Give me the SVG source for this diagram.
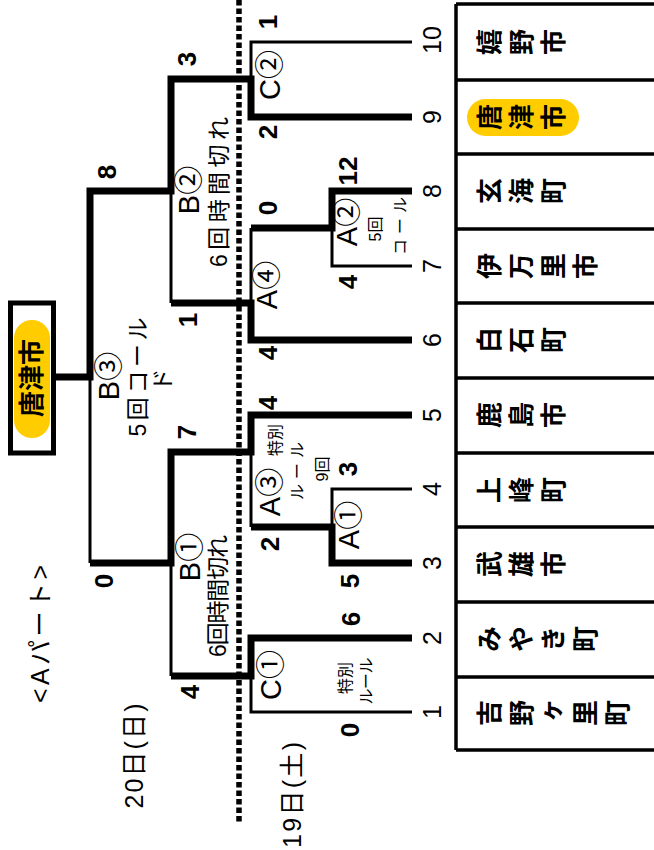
<svg xmlns="http://www.w3.org/2000/svg" width="654" height="850" viewBox="0 0 654 850">
<style>
text{font-family:"Liberation Sans","Noto Sans CJK JP",sans-serif;fill:#000}
.r{text-anchor:middle;dominant-baseline:central}
.sc{font-size:26px;font-weight:bold}
.num{font-size:25px}
.lb{font-size:29px}
.nt{font-size:23px}
.hd{font-size:25px}
.sm{font-size:16px}
.name{font-family:"Noto Sans CJK JP",sans-serif;font-size:26px;font-weight:bold;writing-mode:vertical-rl;letter-spacing:6px}
.thick{fill:none;stroke:#000;stroke-width:7;stroke-linejoin:miter}
.thin{fill:none;stroke:#000;stroke-width:3}
.grid{fill:none;stroke:#000;stroke-width:3.5}
.pill{fill:#FFCC00}
</style>
<rect width="654" height="850" fill="#fff"/>

<g id="headers">
<text class="hd r" transform="translate(40,634) rotate(-90)" textLength="138">&lt;Aパート&gt;</text>
<text class="hd r" transform="translate(134,756) rotate(-90)" textLength="105">20日(日)</text>
<text class="hd r" transform="translate(292,795) rotate(-90)" textLength="106">19日(土)</text>
</g>

<line id="day-divider" x1="239" y1="0" x2="239" y2="823" stroke="#000" stroke-width="5.5" stroke-dasharray="5.5 3"/>

<g id="connectors">
<path class="thin" d="M412,42 H251 V79"/>
<path class="thin" d="M171,191 V303"/>
<path class="thin" d="M251,228 V303"/>
<path class="thin" d="M412,266 H332 V228"/>
<path class="thin" d="M90,377 V563"/>
<path class="thin" d="M251,452 V527"/>
<path class="thin" d="M412,489 H332 V527"/>
<path class="thin" d="M171,563 V676"/>
<path class="thin" d="M412,712 H251 V676"/>
<path class="thick" d="M412,117 H251 V79 H171 V191 H90 V377 H55"/>
<path class="thick" d="M412,191 H332 V228 H251"/>
<path class="thick" d="M412,340 H251 V303 H171"/>
<path class="thick" d="M412,415 H251 V452 H171 V563 H90"/>
<path class="thick" d="M412,563 H332 V527 H251"/>
<path class="thick" d="M412,638 H251 V676 H171"/>
</g>

<g id="winner">
<rect x="10.5" y="303" width="43" height="150" fill="#fff" stroke="#000" stroke-width="5"/>
<rect class="pill" x="14" y="320" width="36" height="118" rx="18"/>
<text class="r" transform="translate(32,378) rotate(-90)" style="font-size:26px;font-weight:bold">唐津市</text>
</g>

<g id="match-C2">
<text class="lb r" transform="translate(270,75) rotate(-90)">C②</text>
<text class="sc r" transform="translate(268,22) rotate(-90)">1</text>
<text class="sc r" transform="translate(268,132) rotate(-90)">2</text>
</g>
<g id="match-B2">
<text class="lb r" transform="translate(189,190) rotate(-90)">B②</text>
<text class="nt r" transform="translate(219,192) rotate(-90)" textLength="150">6回時間切れ</text>
<text class="sc r" transform="translate(187,59) rotate(-90)">3</text>
<text class="sc r" transform="translate(188,320) rotate(-90)">1</text>
</g>
<g id="match-B3">
<text class="lb r" transform="translate(109,376) rotate(-90)">B③</text>
<text class="nt r" transform="translate(138,377) rotate(-90)" textLength="119">5回コール</text>
<text class="nt r" transform="translate(163,380) rotate(-90)">ド</text>
<text class="sc r" transform="translate(107,172) rotate(-90)">8</text>
<text class="sc r" transform="translate(104,581) rotate(-90)">0</text>
</g>
<g id="match-A2">
<text class="lb r" transform="translate(347,222) rotate(-90)">A②</text>
<text class="sm r" transform="translate(375,229) rotate(-90)">5回</text>
<text class="sm r" transform="translate(400,226) rotate(-90)" textLength="58">コール</text>
<text class="sc r" transform="translate(348,171) rotate(-90)">12</text>
<text class="sc r" transform="translate(348,282) rotate(-90)">4</text>
</g>
<g id="match-A4">
<text class="lb r" transform="translate(267,285) rotate(-90)">A④</text>
<text class="sc r" transform="translate(268,208) rotate(-90)">0</text>
<text class="sc r" transform="translate(268,353) rotate(-90)">4</text>
</g>
<g id="match-A3">
<text class="lb r" transform="translate(270,492) rotate(-90)">A③</text>
<text class="sm r" transform="translate(275,440) rotate(-90)">特別</text>
<text class="sm r" transform="translate(297,471) rotate(-90)" textLength="58">ルール</text>
<text class="sm r" transform="translate(322,469) rotate(-90)">9回</text>
<text class="sc r" transform="translate(268,403) rotate(-90)">4</text>
<text class="sc r" transform="translate(270,544) rotate(-90)">2</text>
</g>
<g id="match-A1">
<text class="lb r" transform="translate(349,525) rotate(-90)">A①</text>
<text class="sc r" transform="translate(348,469) rotate(-90)">3</text>
<text class="sc r" transform="translate(350,581) rotate(-90)">5</text>
</g>
<g id="match-B1">
<text class="lb r" transform="translate(190,557) rotate(-90)">B①</text>
<text class="nt r" transform="translate(218,596) rotate(-90)" textLength="122">6回時間切れ</text>
<text class="sc r" transform="translate(187,432) rotate(-90)">7</text>
<text class="sc r" transform="translate(190,692) rotate(-90)">4</text>
</g>
<g id="match-C1">
<text class="lb r" transform="translate(271,675) rotate(-90)">C①</text>
<text class="sm r" transform="translate(345,678) rotate(-90)">特別</text>
<text class="sm r" transform="translate(366,681) rotate(-90)" textLength="47">ルール</text>
<text class="sc r" transform="translate(351,619) rotate(-90)">6</text>
<text class="sc r" transform="translate(350,730) rotate(-90)">0</text>
</g>

<g id="team-table">
<path class="grid" d="M456,4 V750 M456,4 H654 M456,80 H654 M456,154 H654 M456,229 H654 M456,303 H654 M456,378 H654 M456,453 H654 M456,527 H654 M456,602 H654 M456,677 H654 M456,750 H654"/>
</g>
<g id="team-10"><text class="num r" transform="translate(432,40) rotate(-90)">10</text><text class="name" transform="translate(476,42) rotate(-90)">嬉野市</text></g>
<g id="team-9"><text class="num r" transform="translate(432,117) rotate(-90)">9</text><rect class="pill" x="467" y="99" width="112" height="37" rx="18.5"/><text class="name" transform="translate(476,117) rotate(-90)">唐津市</text></g>
<g id="team-8"><text class="num r" transform="translate(432,191) rotate(-90)">8</text><text class="name" transform="translate(476,191) rotate(-90)">玄海町</text></g>
<g id="team-7"><text class="num r" transform="translate(432,266) rotate(-90)">7</text><text class="name" transform="translate(476,266) rotate(-90)">伊万里市</text></g>
<g id="team-6"><text class="num r" transform="translate(432,340) rotate(-90)">6</text><text class="name" transform="translate(476,340) rotate(-90)">白石町</text></g>
<g id="team-5"><text class="num r" transform="translate(432,415) rotate(-90)">5</text><text class="name" transform="translate(476,415) rotate(-90)">鹿島市</text></g>
<g id="team-4"><text class="num r" transform="translate(432,489) rotate(-90)">4</text><text class="name" transform="translate(476,490) rotate(-90)">上峰町</text></g>
<g id="team-3"><text class="num r" transform="translate(432,563) rotate(-90)">3</text><text class="name" transform="translate(476,564) rotate(-90)">武雄市</text></g>
<g id="team-2"><text class="num r" transform="translate(432,638) rotate(-90)">2</text><text class="name" transform="translate(476,639) rotate(-90)">みやき町</text></g>
<g id="team-1"><text class="num r" transform="translate(432,712) rotate(-90)">1</text><text class="name" transform="translate(476,713) rotate(-90)">吉野ヶ里町</text></g>
</svg>
